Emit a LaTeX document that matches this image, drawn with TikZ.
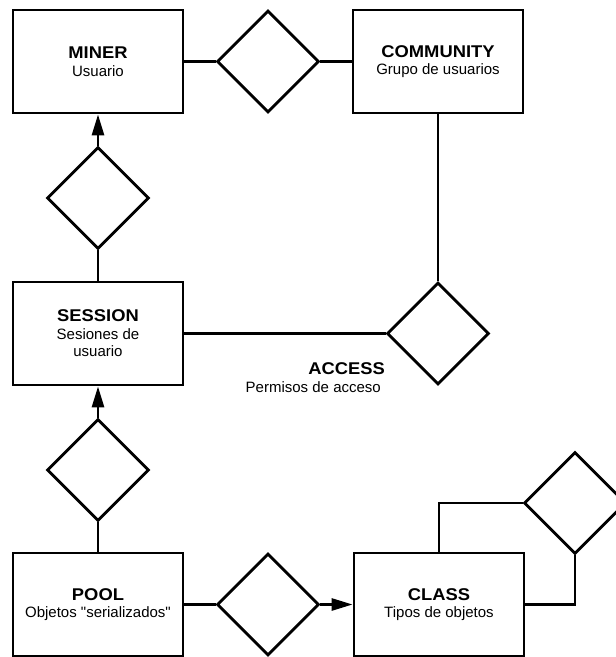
\documentclass[tikz,border=0pt]{standalone}
\usepackage{fontspec}
\setmainfont{Liberation Sans}[Ligatures=TeXOff]
\newfontfamily\headfont{Liberation Sans}[FakeStretch=1.08]
\usetikzlibrary{shapes.geometric,arrows.meta}

\tikzset{
  entity/.style={draw, line width=2.8pt, minimum width=170pt, minimum height=103pt,
    inner sep=0pt, align=center, font=\fontsize{15}{17.5}\selectfont},
  relation/.style={draw, diamond, aspect=1, line width=2.8pt, minimum width=102pt,
    minimum height=102pt, inner sep=0pt},
  link/.style={line width=2.8pt},
  arrowlink/.style={link, -{Triangle[length=21pt,width=12pt]}}
}
\newcommand{\ttl}[1]{{\headfont\bfseries\fontsize{17}{17.5}\selectfont #1}}

\begin{document}
\begin{tikzpicture}[x=1pt, y=-1pt]
  \useasboundingbox (0,0) rectangle (616,657);
  \clip (0,0) rectangle (616,657);
  \fill[white] (0,0) rectangle (616,657);

  % entities
  \node[entity] (miner)     at (98,61.5)   {\ttl{MINER}\\Usuario};
  \node[entity] (community) at (438,61.5)  {\ttl{COMMUNITY}\\Grupo de usuarios};
  \node[entity] (session)   at (98,333.5)  {\ttl{SESSION}\\Sesiones de\\usuario};
  \node[entity] (pool)      at (98,604.5)  {\ttl{POOL}\\Objetos "serializados"};
  \node[entity] (class)     at (439,604.5) {\ttl{CLASS}\\Tipos de objetos};

  % relationships
  \node[relation] (belongs)  at (268,61.5)  {};
  \node[relation] (opens)    at (98,198)    {};
  \node[relation] (access)   at (438,333.5) {};
  \node[relation] (holds)    at (98,470)    {};
  \node[relation] (typeof)   at (268,604.5) {};
  \node[relation] (inherits) at (575,503)   {};

  \node[anchor=north east, align=right, inner sep=0pt,
        font=\fontsize{15}{18}\selectfont] (accesslabel) at (385,362)
        {\ttl{ACCESS}\\Permisos de acceso\hspace*{4pt}};

  % connectors
  \draw[link] (miner.east) -- (belongs.west);
  \draw[link] (belongs.east) -- (community.west);
  \draw[link] (community.south) -- (access.north);
  \draw[link] (session.east) -- (access.west);
  \draw[link] (session.north) -- (opens.south);
  \draw[arrowlink] (opens.north) -- (miner.south);
  \draw[link] (pool.north) -- (holds.south);
  \draw[arrowlink] (holds.north) -- (session.south);
  \draw[link] (pool.east) -- (typeof.west);
  \draw[arrowlink] (typeof.east) -- (class.west);
  \draw[link] (class.north) |- (inherits.west);
  \draw[link] (inherits.south) |- (class.east);
\end{tikzpicture}
\end{document}
